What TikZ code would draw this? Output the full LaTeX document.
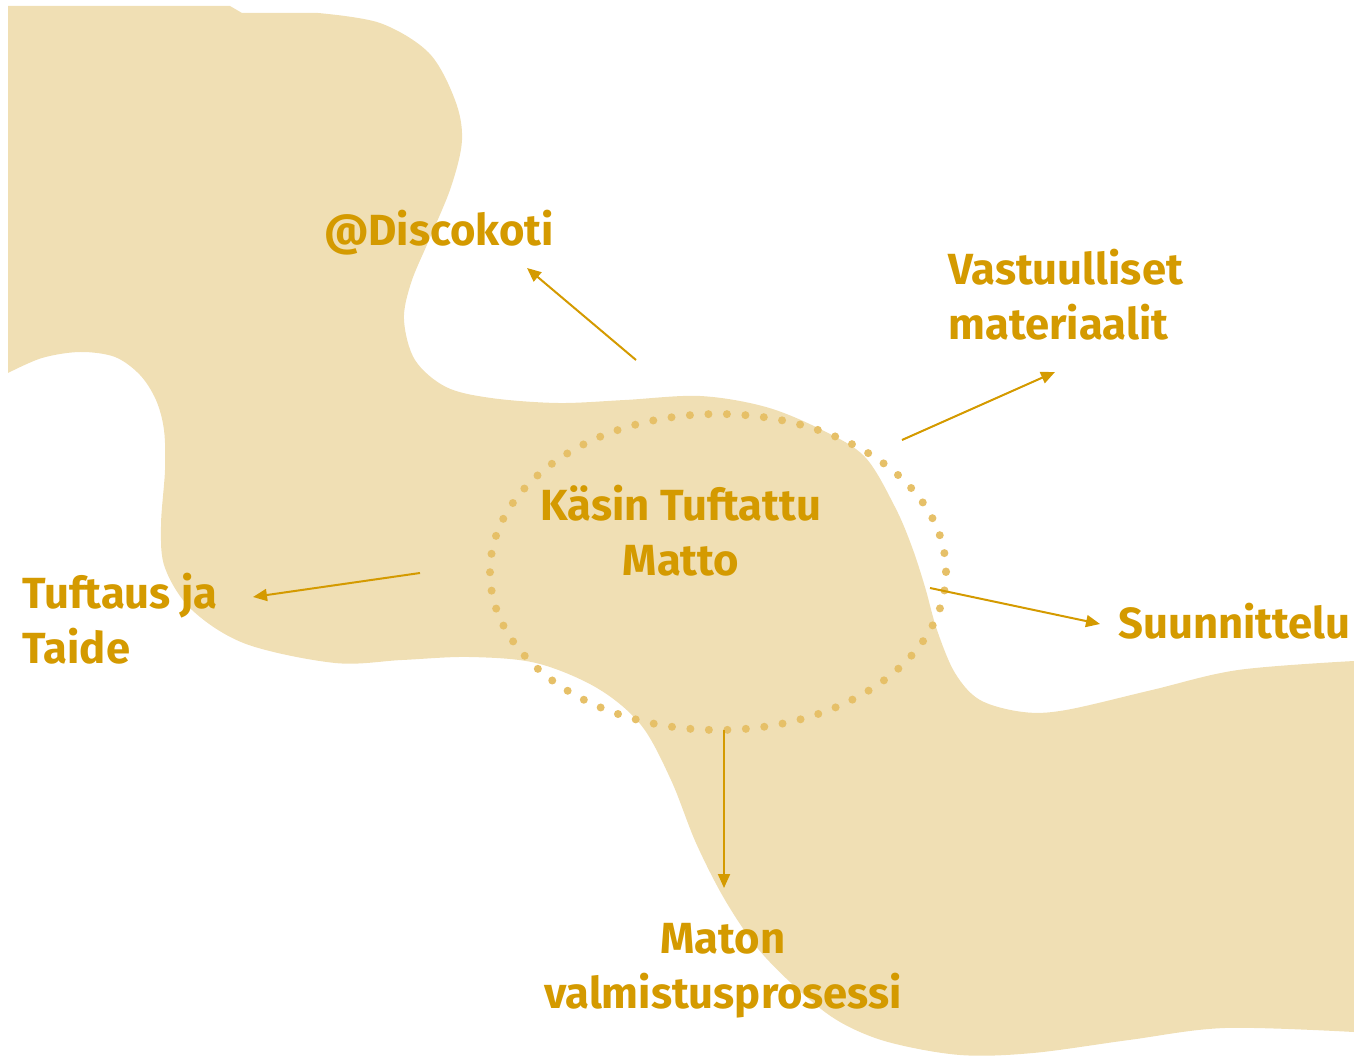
\documentclass[tikz,border=0pt]{standalone}
\usepackage{fontspec}
\setmainfont{Fira Sans}
\usetikzlibrary{arrows.meta}
\definecolor{blobc}{HTML}{F0DFB4}
\definecolor{goldc}{HTML}{D49A00}
\definecolor{dotc}{HTML}{E6C068}
\begin{document}
\begin{tikzpicture}[x=0.5pt,y=-0.5pt,
  lbl/.style={inner sep=0pt, text=goldc, font=\fontsize{21.8pt}{27.5pt}\selectfont\bfseries},
  conn/.style={draw=goldc, line width=1pt, -{Triangle[length=7pt,width=6pt]}}]
\useasboundingbox (0,0) rectangle (1354,1058);
% background blob
\fill[blobc] (8,6) -- (230,6) -- (242,13) -- (318,13)
  -- plot[smooth,tension=0.55] coordinates {(318,13) (380,23) (429,53) (455,100) (462,140) (451,187) (429,240) (411,283) (404,320) (415,360) (446,387) (491,398) (558,403) (625,400) (700,396) (766,407) (822,430) (865,457) (895,507) (912,547) (925,587) (937,630) (955,673) (980,700) (1023,712) (1066,710) (1152,690) (1238,670) (1354,661)}
  -- (1354,1032)
  -- plot[smooth,tension=0.55] coordinates {(1354,1032) (1225,1028) (1129,1040) (1033,1053) (960,1055) (888,1042) (840,1022) (802,993) (759,950) (725,900) (696,843) (671,780) (641,725) (597,688) (536,663) (469,657) (402,660) (335,663) (246,644) (192,610) (165,568) (161,526) (165,470) (164,430) (156,400) (140,375) (115,357) (80,352) (42,358) (8,373)}
  -- cycle;
% dotted ellipse
\draw[dotc, line width=4pt, line cap=round, dash pattern=on 0pt off 9.26pt] (718,572) ellipse [x radius=228, y radius=158];
% labels
\node[lbl, anchor=base] (disco) at (439,246) {@Discokoti};
\node[lbl, align=left, anchor=base west] (vastu) at (948,340) {Vastuulliset\\materiaalit};
\node[lbl, align=center, anchor=base] (kasin) at (681,575) {Käsin Tuftattu\\Matto};
\node[lbl, align=left, anchor=base west] (tuft) at (22,663) {Tuftaus ja\\Taide};
\node[lbl, anchor=base west] (suun) at (1118,638) {Suunnittelu};
\node[lbl, align=center, anchor=base] (maton) at (723,1008) {Maton\\valmistusprosessi};
% connectors
\coordinate (a1s) at (636,360); \coordinate (a1e) at (527,268);
\coordinate (a2s) at (902,440); \coordinate (a2e) at (1055,372);
\coordinate (a3s) at (420,573); \coordinate (a3e) at (253,597);
\coordinate (a4s) at (930,588); \coordinate (a4e) at (1100,624);
\coordinate (a5s) at (724,730); \coordinate (a5e) at (724,888);
\draw[conn] (a1s) -- (a1e);
\draw[conn] (a2s) -- (a2e);
\draw[conn] (a3s) -- (a3e);
\draw[conn] (a4s) -- (a4e);
\draw[conn] (a5s) -- (a5e);
\end{tikzpicture}
\end{document}
